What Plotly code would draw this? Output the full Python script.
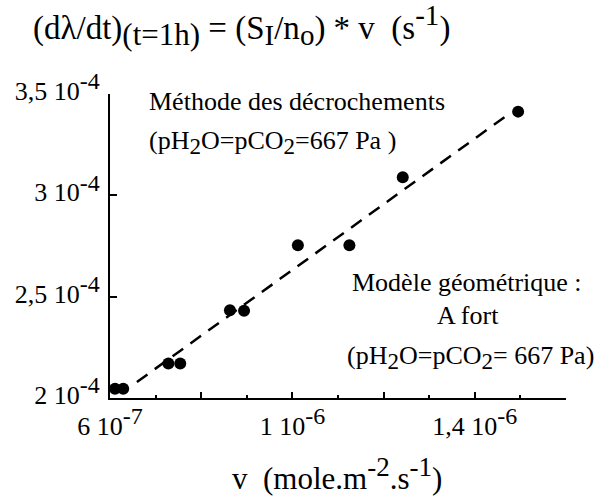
import plotly.graph_objects as go

# Measured points: deposition rate v vs. (dλ/dt) at t = 1 h
v_rate = [6.11e-7, 6.29e-7, 7.28e-7, 7.54e-7, 8.63e-7, 8.94e-7,
          1.012e-6, 1.125e-6, 1.242e-6, 1.495e-6]
dldt = [2.046e-4, 2.046e-4, 2.170e-4, 2.170e-4, 2.433e-4, 2.430e-4,
        2.754e-4, 2.754e-4, 3.089e-4, 3.413e-4]

# Geometric model line (A fort)
model_v = [6.59e-7, 1.477e-6]
model_dldt = [2.079e-4, 3.405e-4]

FONT = "Liberation Serif"


def sup(t, size):
    return f"<sup><span style='font-size:{size}px'>{t}</span></sup>"


def sub(t, size):
    return f"<sub><span style='font-size:{size}px'>{t}</span></sub>"


x_tickvals = [6e-7, 8e-7, 1e-6, 1.2e-6, 1.4e-6, 1.6e-6]
x_ticktext = ["6 10" + sup("-7", 24), "", "1 10" + sup("-6", 24), "",
              "1,4 10" + sup("-6", 24), ""]
y_tickvals = [2e-4, 2.5e-4, 3e-4, 3.5e-4]
y_ticktext = ["2 10" + sup("-4", 24), "2,5 10" + sup("-4", 24),
              "3 10" + sup("-4", 24), "3,5 10" + sup("-4", 24)]

W, H = 600, 498
L, R, T, B = 110, 34, 94, 100
pw, ph = W - L - R, H - T - B


def px(x):
    return (x - L) / pw


def py(y):
    return (H - B - y) / ph


fig = go.Figure()
fig.add_trace(go.Scatter(
    x=model_v, y=model_dldt, mode="lines",
    line=dict(color="black", width=2.5, dash="13px,9px"),
    hoverinfo="skip", showlegend=False,
))
fig.add_trace(go.Scatter(
    x=v_rate, y=dldt, mode="markers",
    marker=dict(color="black", size=12),
    showlegend=False, cliponaxis=False,
))

gas = "(pH" + sub("2", 23) + "O=pCO" + sub("2", 23)
annos = [
    dict(text="Méthode des décrochements", x=px(147), y=py(101), xanchor="left", size=26),
    dict(text=gas + "=667 Pa )", x=px(147), y=py(142), xanchor="left", size=26),
    dict(text="Modèle géométrique :", x=px(467), y=py(282), xanchor="center", size=26),
    dict(text="A fort", x=px(468), y=py(315), xanchor="center", size=26),
    dict(text=gas + "= 667 Pa)", x=px(470), y=py(357), xanchor="center", size=26),
    dict(text="v  (mole.m" + sup("-2", 27) + ".s" + sup("-1", 27) + ")",
         x=px(337), y=py(474), xanchor="center", size=31),
]
for a in annos:
    size = a.pop("size")
    fig.add_annotation(xref="paper", yref="paper", yanchor="middle", showarrow=False,
                       font=dict(family=FONT, size=size, color="black"), **a)

fig.update_layout(
    width=W, height=H,
    margin=dict(l=L, r=R, t=T, b=B),
    paper_bgcolor="white", plot_bgcolor="white",
    font=dict(family=FONT, size=26, color="black"),
    title=dict(
        text="(dλ/dt)" + sub("(t=1h)", 31) + " = (S" + sub("I", 29) + "/n" + sub("o", 29)
             + ") * v  (s" + sup("-1", 29) + ")",
        x=33 / W, xref="container", xanchor="left",
        y=1 - 27 / H, yref="container", yanchor="middle",
        font=dict(family=FONT, size=33, color="black"),
    ),
    xaxis=dict(
        range=[6e-7, 1.6e-6], tickmode="array", tickvals=x_tickvals, ticktext=x_ticktext,
        ticks="inside", ticklen=6, tickwidth=2, tickcolor="black",
        minor=dict(dtick=1e-7, tick0=6e-7, ticks="inside", ticklen=3, tickwidth=2, tickcolor="black"),
        showline=True, linecolor="black", linewidth=2, showgrid=False, zeroline=False,
        tickfont=dict(family=FONT, size=26), ticklabelstandoff=4,
    ),
    yaxis=dict(
        range=[2e-4, 3.5e-4], tickmode="array", tickvals=y_tickvals, ticktext=y_ticktext,
        ticks="inside", ticklen=7, tickwidth=2, tickcolor="black",
        showline=True, linecolor="black", linewidth=2, showgrid=False, zeroline=False,
        tickfont=dict(family=FONT, size=26), ticklabelstandoff=3, ticklabelshift=-3,
    ),
)

fig.write_html("out.html")
